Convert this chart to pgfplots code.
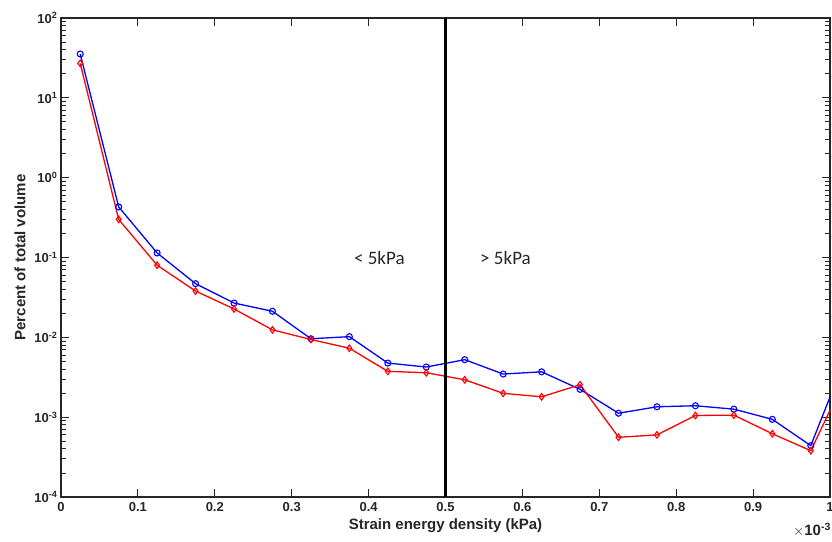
\documentclass[border=0pt]{standalone}
\usepackage{pgfplots}
\pgfplotsset{compat=1.18}
\usepackage{fontspec}
\setmainfont{Liberation Sans}
\newfontfamily\carlito{Carlito}
\usetikzlibrary{calc}
\tikzset{tk/.style={draw=black!85, line width=1.1pt}}
\begin{document}
\begin{tikzpicture}
\begin{axis}[
  scale only axis, width=769pt, height=479pt,
  xmin=0, xmax=1, ymin=1e-4, ymax=1e2, ymode=log,
  axis line style={black!85, line width=1.3pt},
  tick style={draw=none},
  xtick={0,0.1,0.2,0.3,0.4,0.5,0.6,0.7,0.8,0.9,1},
  xticklabels={0,0.1,0.2,0.3,0.4,0.5,0.6,0.7,0.8,0.9,1},
  ytick={1e-4,1e-3,1e-2,1e-1,1,10,100},
  yticklabels={10\textsuperscript{-4},10\textsuperscript{-3},10\textsuperscript{-2},10\textsuperscript{-1},10\textsuperscript{0},10\textsuperscript{1},10\textsuperscript{2}},
  ticklabel style={font=\fontsize{13}{15}\selectfont\bfseries, text=black!85},
  xticklabel style={yshift=-2pt},
  xlabel={Strain energy density (kPa)},
  ylabel={Percent of total volume},
  label style={font=\fontsize{15}{17}\selectfont\bfseries, text=black!85},
  ylabel style={yshift=2pt},
  clip=true,
]
\pgfplotsinvokeforeach{0.1,0.2,0.3,0.4,0.5,0.6,0.7,0.8,0.9}{
  \draw[tk] (axis cs:#1,1e-4) -- (axis cs:#1,1.259e-4);
  \draw[tk] (axis cs:#1,1e2) -- (axis cs:#1,79.4);
}
\pgfplotsinvokeforeach{1e-3,1e-2,1e-1,1,1e1}{
  \draw[tk] (axis cs:0,#1) -- (axis cs:0.0104,#1);
  \draw[tk] (axis cs:1,#1) -- (axis cs:0.9896,#1);
}
\pgfplotsinvokeforeach{2e-4,3e-4,4e-4,5e-4,6e-4,7e-4,8e-4,9e-4,
  2e-3,3e-3,4e-3,5e-3,6e-3,7e-3,8e-3,9e-3,
  2e-2,3e-2,4e-2,5e-2,6e-2,7e-2,8e-2,9e-2,
  2e-1,3e-1,4e-1,5e-1,6e-1,7e-1,8e-1,9e-1,
  2,3,4,5,6,7,8,9,
  20,30,40,50,60,70,80,90}{
  \draw[tk, line width=0.9pt] (axis cs:0,#1) -- (axis cs:0.0059,#1);
  \draw[tk, line width=0.9pt] (axis cs:1,#1) -- (axis cs:0.9941,#1);
}
\addplot[blue, line width=1.3pt, mark=o, mark size=3pt, mark options={line width=1.1pt}] coordinates {
(0.025,35.4) (0.075,0.43) (0.125,0.114) (0.175,0.047) (0.225,0.0269)
(0.275,0.0212) (0.325,0.0096) (0.375,0.0102) (0.425,0.00476) (0.475,0.00425)
(0.525,0.00525) (0.575,0.00347) (0.625,0.0037) (0.675,0.00223) (0.725,0.00112)
(0.775,0.00135) (0.825,0.00139) (0.875,0.00126) (0.925,0.00094) (0.975,0.00044)
(1.025,0.0073)
};
\addplot[red, line width=1.3pt, mark=diamond, mark size=3.3pt, mark options={line width=1.1pt}] coordinates {
(0.025,27) (0.075,0.30) (0.125,0.080) (0.175,0.038) (0.225,0.0227)
(0.275,0.0124) (0.325,0.0094) (0.375,0.0073) (0.425,0.00375) (0.475,0.0036)
(0.525,0.00294) (0.575,0.00199) (0.625,0.0018) (0.675,0.00255) (0.725,0.00056)
(0.775,0.0006) (0.825,0.00105) (0.875,0.00106) (0.925,0.00062) (0.975,0.00038)
(1.025,0.0039)
};
\addplot[black, line width=2.8pt] coordinates {(0.5,1e-4) (0.5,1e2)};
\node[font=\carlito\fontsize{19}{21}\selectfont, text=black!85] at (axis cs:0.414,0.1) {< 5kPa};
\node[font=\carlito\fontsize{19}{21}\selectfont, text=black!85] at (axis cs:0.578,0.1) {> 5kPa};
\coordinate (bl) at (rel axis cs:0,0);
\coordinate (br) at (rel axis cs:1,0);
\coordinate (tr) at (rel axis cs:1,1);
\end{axis}
\node[font=\fontsize{15}{17}\selectfont\bfseries, text=black!85, anchor=center] at ($(br)+(-18pt,-33pt)$) {\textmd{$\times$}10\textsuperscript{-3}};
\pgfresetboundingbox
\path ($(bl)+(-61pt,-44pt)$) rectangle ($(tr)+(2pt,18pt)$);
\end{tikzpicture}
\end{document}
